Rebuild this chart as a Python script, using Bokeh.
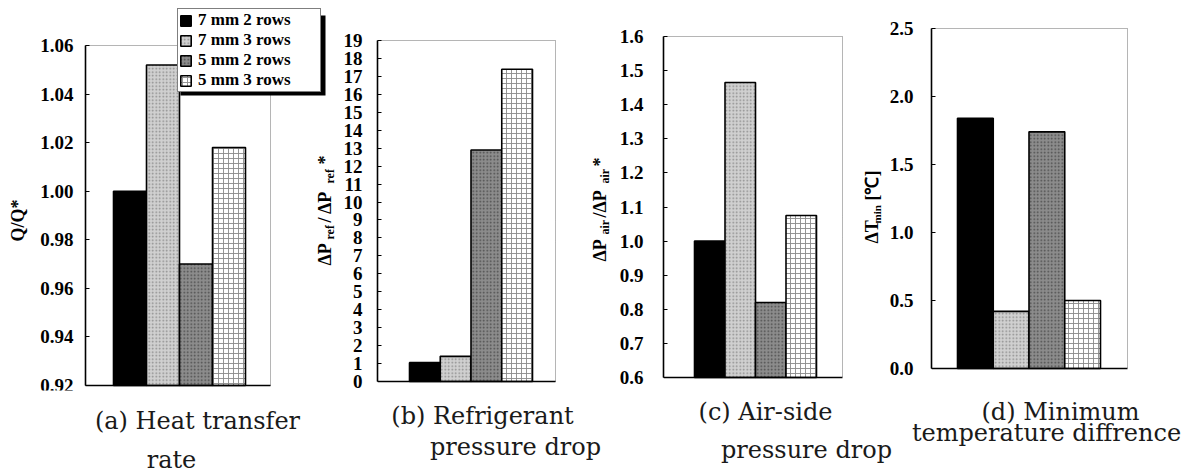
import math
from bokeh.plotting import figure
from bokeh.models import (Range1d, FixedTicker, NumeralTickFormatter, Legend,
                          LegendItem, ColumnDataSource)
from bokeh.layouts import row, column
from bokeh.embed import file_html
from bokeh.resources import INLINE
from bokeh.core.properties import value

# ---------------- data ----------------
series = ["7 mm 2 rows", "7 mm 3 rows", "5 mm 2 rows", "5 mm 3 rows"]
heat_transfer_ratio = [1.000, 1.052, 0.970, 1.018]     # Q/Q*
refrigerant_dp_ratio = [1.05, 1.40, 12.9, 17.4]         # dPref/dPref*
air_dp_ratio = [1.00, 1.465, 0.82, 1.075]               # dPair/dPair*
min_temp_diff = [1.84, 0.42, 1.74, 0.50]                # dTmin [C]

ticks_a = [0.92, 0.94, 0.96, 0.98, 1.00, 1.02, 1.04, 1.06]
ticks_b = list(range(0, 20))
ticks_c = [0.6, 0.7, 0.8, 0.9, 1.0, 1.1, 1.2, 1.3, 1.4, 1.5, 1.6]
ticks_d = [0.0, 0.5, 1.0, 1.5, 2.0, 2.5]

captions = [("(a) Heat transfer", "rate"),
            ("(b) Refrigerant", "pressure drop"),
            ("(c) Air-side", "pressure drop"),
            ("(d) Minimum", "temperature diffrence")]

# ---------------- styles ----------------
FILL = ["#000000", "#d0d0d0", "#8c8c8c", "#ffffff"]
HATCH = [" ", "dot", "dot", "cross"]
HCOL = ["#000000", "#8a8a8a", "#4a4a4a", "#8a8a8a"]
HSCALE = [4, 3.5, 3.5, 5]
SERIF = "Liberation Serif"
ROW_H = 396
FT, FBF = 4, 390          # common frame top / bottom (px) for all four panels


def panel(vals, ticks, fmt, y0, y1, fx0, fx1, FL, AX, FR, VR, VT, VB, BL, u, standoff):
    """fx0..fx1: canvas extent; FL..FR: plotting frame (px); AX: axis position (px);
    VR, VT, VB: right/top/bottom edges of the drawn box; BL: left edge of first bar;
    u: px per bar."""
    s = (y1 - y0) / (VB - VT)
    xs = 0.5 - (BL - FL) / u
    xe = 0.5 + (FR - BL) / u
    p = figure(width=fx1 - fx0, height=ROW_H, title=None,
               x_range=Range1d(xs, xe),
               y_range=Range1d(y0 - (FBF - VB) * s, y1 + (VT - FT) * s),
               output_backend="svg", toolbar_location=None, x_axis_location=None,
               min_border_left=FL - fx0, min_border_right=fx1 - FR,
               min_border_top=FT, min_border_bottom=ROW_H - FBF)
    p.extra_x_ranges = {"px": Range1d(FL, FR)}
    p.extra_y_ranges = {"px": Range1d(FBF, FT)}
    p.grid.visible = False
    p.outline_line_color = None
    p.background_fill_color = "white"
    p.border_fill_color = "white"
    src = ColumnDataSource(dict(x=[1, 2, 3, 4], top=vals, bottom=[y0] * 4, fill=FILL,
                                hatch=HATCH, hcol=HCOL, hscale=HSCALE, name=series))
    r = p.vbar(x="x", top="top", bottom="bottom", width=1.0, source=src,
               fill_color="fill", line_color="black", line_width=1.6,
               hatch_pattern="hatch", hatch_color="hcol", hatch_scale="hscale",
               hatch_weight=0.9)
    # box: dotted top / right, solid bottom
    p.line(x=[AX, VR, VR], y=[VT, VT, VB], x_range_name="px", y_range_name="px",
           line_color="#6a6a6a", line_dash="1 1", line_width=1)
    p.segment(x0=[AX], y0=[VB], x1=[VR], y1=[VB], x_range_name="px",
              y_range_name="px", line_color="black", line_width=1.6)
    ax = p.yaxis[0]
    if AX != FL:
        ax.fixed_location = xs + (AX - FL) / u
    ax.bounds = (y0, y1)
    ax.ticker = FixedTicker(ticks=ticks)
    ax.formatter = NumeralTickFormatter(format=fmt)
    ax.major_label_text_font = SERIF
    ax.major_label_text_font_style = "bold"
    ax.major_label_text_font_size = "19px"
    ax.major_label_text_color = "black"
    ax.major_tick_in = 4
    ax.major_tick_out = 0
    ax.minor_tick_line_color = None
    ax.axis_line_width = 1.6
    ax.axis_line_color = "black"
    ax.major_label_standoff = standoff
    return p, r


def rotated_label(p, pieces):
    # (text, baseline x, start y, font size px); baseline nudged for the renderer
    for text, bx, by, size in pieces:
        p.text(x=[bx - size / 3.0], y=[by], text=[text], x_range_name="px",
               y_range_name="px", angle=math.pi / 2, text_font=value(SERIF),
               text_font_style="bold", text_font_size=f"{size}px", text_align="left",
               text_baseline="alphabetic", text_color="black")


# (a)  -- its frame spans the whole canvas: y label, legend and the y label of (b)
pa, ra = panel(heat_transfer_ratio, ticks_a, "0.00", 0.92, 1.06,
               0, 338, 0, 85, 338, 270, 45, 385, 113, 33, 12)
rotated_label(pa, [("Q/Q*", 23, 241, 18)])
# legend shadow (drawn beneath the legend box)
pa.quad(left=[180], right=[325], top=[15], bottom=[95], x_range_name="px",
        y_range_name="px", fill_color="black", line_color=None)
legend = Legend(items=[LegendItem(label=s, renderers=[ra], index=i) for i, s in enumerate(series)],
                location=(177, FBF - 92))
legend.label_text_font = SERIF
legend.label_text_font_style = "bold"
legend.label_text_font_size = "17px"
legend.label_text_color = "black"
legend.glyph_width = 13
legend.glyph_height = 13
legend.label_height = 18
legend.label_width = 121
legend.label_standoff = 6
legend.spacing = 0
legend.padding = 1
legend.margin = 0
legend.border_line_color = "black"
legend.border_line_width = 1.5
legend.background_fill_color = "white"
legend.background_fill_alpha = 1
pa.add_layout(legend)
rotated_label(pa, [("ΔP", 330, 265, 18), ("ref", 333, 239, 12),
                   ("/ ΔP", 330, 222, 18), ("ref", 333, 183, 12),
                   ("*", 330, 164, 18)])

# (b) -- also carries the y label of (c)
pb, _ = panel(refrigerant_dp_ratio, ticks_b, "0", 0, 19,
              338, 612, 377, 377, 612, 555, 40, 381, 409, 30.75, 15)
rotated_label(pb, [("ΔP", 605, 261, 18), ("air", 608, 234, 12),
                   ("/ΔP", 605, 217, 18), ("air", 608, 183, 12),
                   ("*", 605, 166, 18)])

# (c) -- also carries the y label of (d)
pc, _ = panel(air_dp_ratio, ticks_c, "0.0", 0.6, 1.6,
              612, 885, 663, 663, 885, 842, 36, 377, 694, 30.5, 20)
rotated_label(pc, [("ΔT", 877, 243, 18), ("min", 880, 223, 11),
                   ("[℃]", 877, 200, 18)])

# (d)
pd_, _ = panel(min_temp_diff, ticks_d, "0.0", 0.0, 2.5,
               885, 1190, 931, 931, 1131, 1127, 28, 368, 957, 35.75, 18)

# captions
CAP_H = 78
cap = figure(width=1190, height=CAP_H, title=None, x_range=Range1d(0, 1190),
             y_range=Range1d(ROW_H + CAP_H, ROW_H), x_axis_location=None,
             y_axis_location=None, min_border=0, output_backend="svg",
             toolbar_location=None)
cap.grid.visible = False
cap.outline_line_color = None
cap_x = [197, 171, 482, 515, 765, 806, 1060, 1046]
cap_y = [420, 459, 415, 446, 411, 449, 411, 432]      # baselines, nudged for the renderer
cap_text = [t for pair in captions for t in pair]
cap.text(x=cap_x, y=cap_y, text=cap_text, text_font=value("DejaVu Serif"),
         text_font_size="24px", text_align="center", text_baseline="alphabetic",
         text_color="#1a1a1a")

layout = column(row(pa, pb, pc, pd_), cap)
open("out.html", "w").write(file_html(layout, INLINE, "chart"))
